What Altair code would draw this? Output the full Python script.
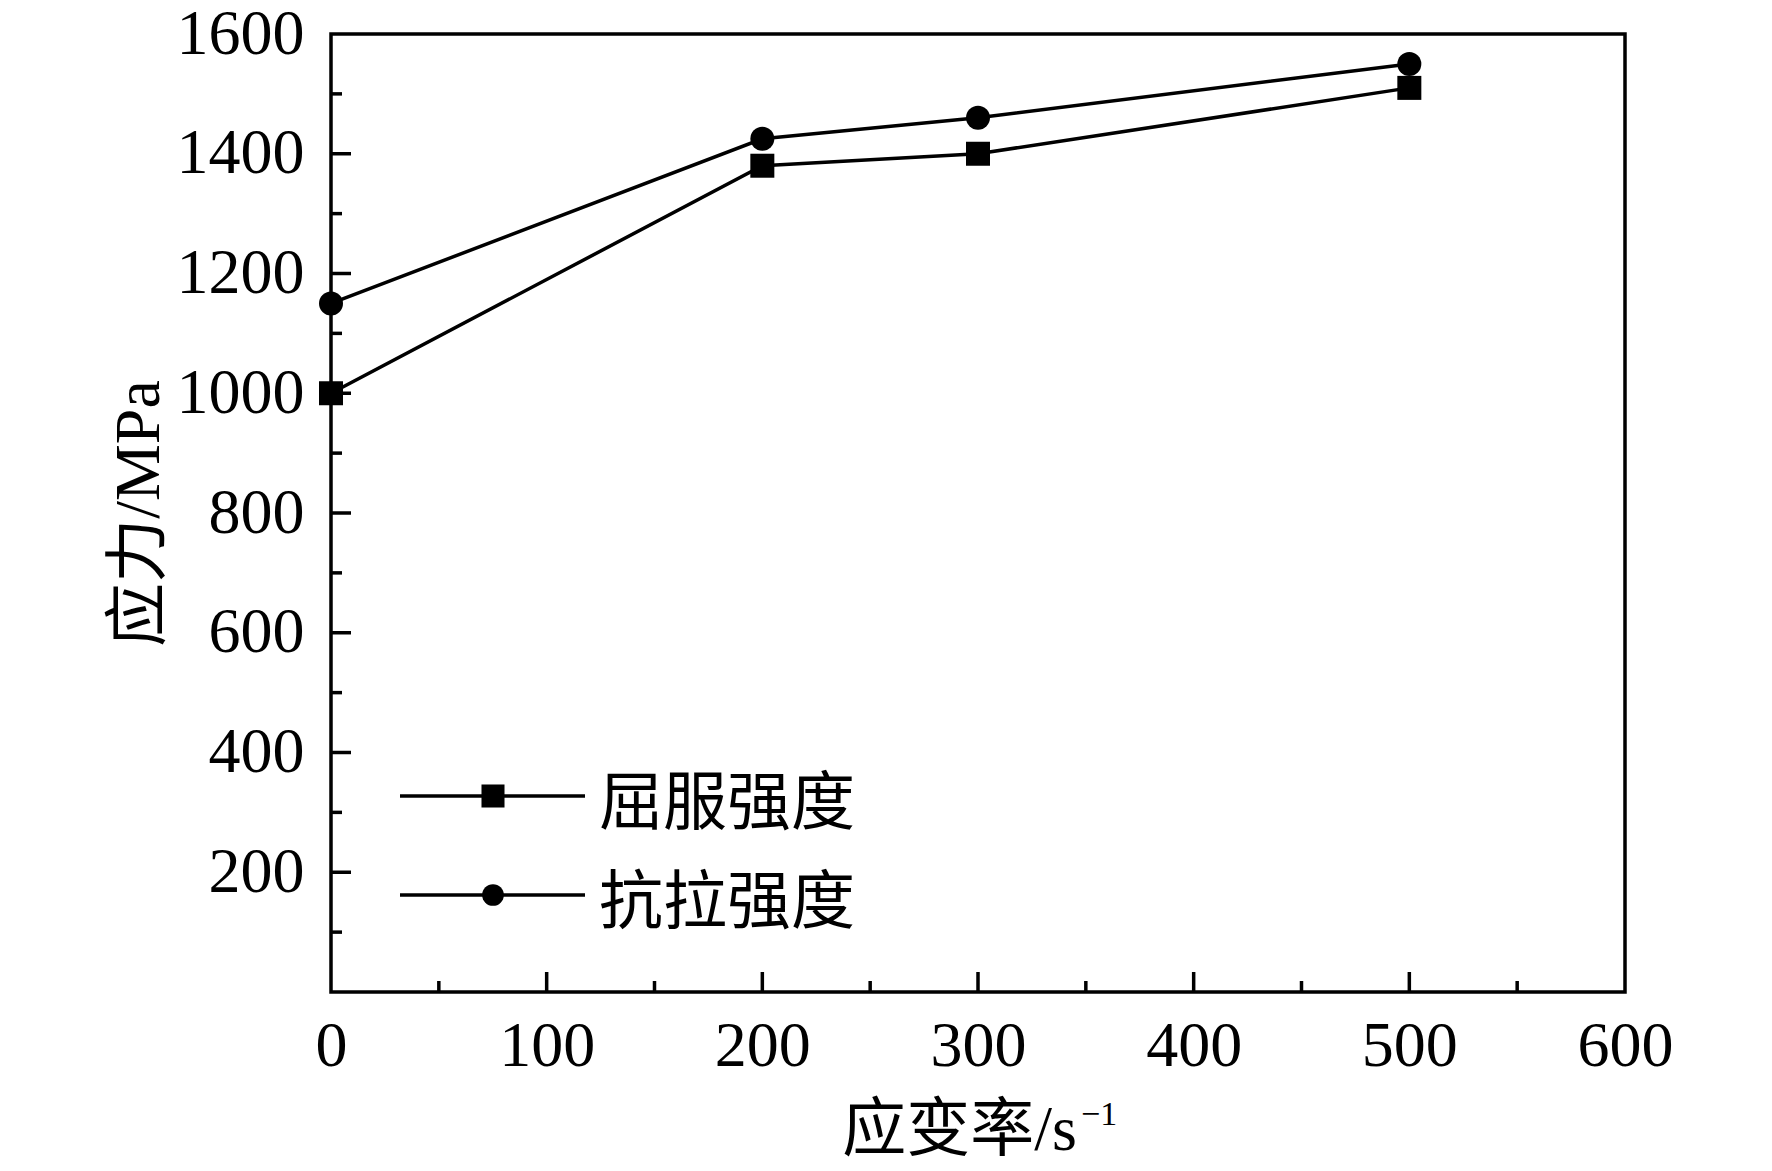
import altair as alt
import pandas as pd

# ---- data ----
strain_rate = [0, 200, 300, 500]
yield_strength = [1000, 1380, 1400, 1510]
tensile_strength = [1150, 1425, 1460, 1550]
series_names = ["屈服强度", "抗拉强度"]
series_shapes = ["square", "circle"]

x_labels = [0, 100, 200, 300, 400, 500, 600]
y_labels = [200, 400, 600, 800, 1000, 1200, 1400, 1600]
x_major = [100, 200, 300, 400, 500]
x_minor = [50, 150, 250, 350, 450, 550]
y_major = [200, 400, 600, 800, 1000, 1200, 1400]
y_minor = [100, 300, 500, 700, 900, 1100, 1300, 1500]

x_title = "应变率/s"
x_title_sup = "−1"
y_title = "应力/MPa"

FONT = "Liberation Serif, Noto Sans CJK SC"
W, H = 1294, 958

df = pd.DataFrame({
    "rate": strain_rate * 2,
    "stress": yield_strength + tensile_strength,
    "series": [series_names[0]] * len(strain_rate) + [series_names[1]] * len(strain_rate),
})

xs = alt.Scale(domain=[0, 600], nice=False, zero=False)
ys = alt.Scale(domain=[0, 1600], nice=False, zero=False)

ax_x = alt.Axis(values=x_labels, title=x_title, format="d", ticks=False, domain=False,
                grid=False, labelFlush=False, labelOverlap=False, labelPadding=22,
                labelFontSize=64, labelFont=FONT, labelColor="black",
                titleFontSize=64, titleFont=FONT, titleColor="black", titleFontWeight="normal",
                titleBaseline="alphabetic", titleY=157, titleX=628)
ax_y = alt.Axis(values=y_labels, title=y_title, format="d", ticks=False, domain=False,
                grid=False, labelFlush=False, labelOverlap=False, labelPadding=27,
                labelFontSize=64, labelFont=FONT, labelColor="black",
                titleFontSize=64, titleFont=FONT, titleColor="black", titleFontWeight="normal",
                titleBaseline="alphabetic", titleAngle=270, titleX=-173, titleY=H / 2)

X = alt.X("rate:Q", scale=xs, axis=ax_x)
Y = alt.Y("stress:Q", scale=ys, axis=ax_y)

lines = alt.Chart(df).mark_line(color="black", strokeWidth=3.5).encode(
    x=X, y=Y, detail="series:N")
points = alt.Chart(df).mark_point(filled=True, opacity=1, color="black", size=576).encode(
    x=X, y=Y,
    shape=alt.Shape("series:N", scale=alt.Scale(domain=series_names, range=series_shapes), legend=None))

# inward ticks
def yticks(vals, length):
    d = pd.DataFrame({"stress": vals})
    return alt.Chart(d).mark_rule(color="black", strokeWidth=3.5).encode(
        y=alt.Y("stress:Q", scale=ys, axis=ax_y), x=alt.value(0), x2=alt.value(length))

def xticks(vals, length):
    d = pd.DataFrame({"rate": vals})
    return alt.Chart(d).mark_rule(color="black", strokeWidth=3.5).encode(
        x=alt.X("rate:Q", scale=xs, axis=ax_x), y=alt.value(H), y2=alt.value(H - length))

tick_layers = [yticks(y_major, 20), yticks(y_minor, 11), xticks(x_major, 20), xticks(x_minor, 11)]

# superscript of the x-axis title
sup = alt.Chart(pd.DataFrame({"t": [x_title_sup]})).mark_text(
    align="left", baseline="alphabetic", fontSize=34, font=FONT, color="black").encode(
    x=alt.value(750), y=alt.value(1091), text="t:N")

# manual legend
leg_rows = [762, 861]
leg_text_y = [771, 870]
leg_sizes = [530, 470]
legend_layers = []
for i, name in enumerate(series_names):
    d = pd.DataFrame({"label": [name]})
    legend_layers.append(alt.Chart(d).mark_rule(color="black", strokeWidth=3.5).encode(
        x=alt.value(69), x2=alt.value(254), y=alt.value(leg_rows[i])))
    legend_layers.append(alt.Chart(d).mark_point(filled=True, opacity=1, color="black",
                                                  shape=series_shapes[i], size=leg_sizes[i]).encode(
        x=alt.value(162), y=alt.value(leg_rows[i])))
    legend_layers.append(alt.Chart(d).mark_text(align="left", baseline="middle", fontSize=64,
                                                 font=FONT, color="black").encode(
        x=alt.value(268), y=alt.value(leg_text_y[i]), text="label:N"))

chart = alt.layer(lines, points, *tick_layers, sup, *legend_layers).properties(
    width=W, height=H,
    autosize=alt.AutoSizeParams(type="none"),
    padding={"left": 323, "top": 26, "right": 130, "bottom": 172},
    background="white",
).configure_view(stroke="black", strokeWidth=3.5)

chart.save("out.html", embed_options={"renderer": "svg", "actions": False})
